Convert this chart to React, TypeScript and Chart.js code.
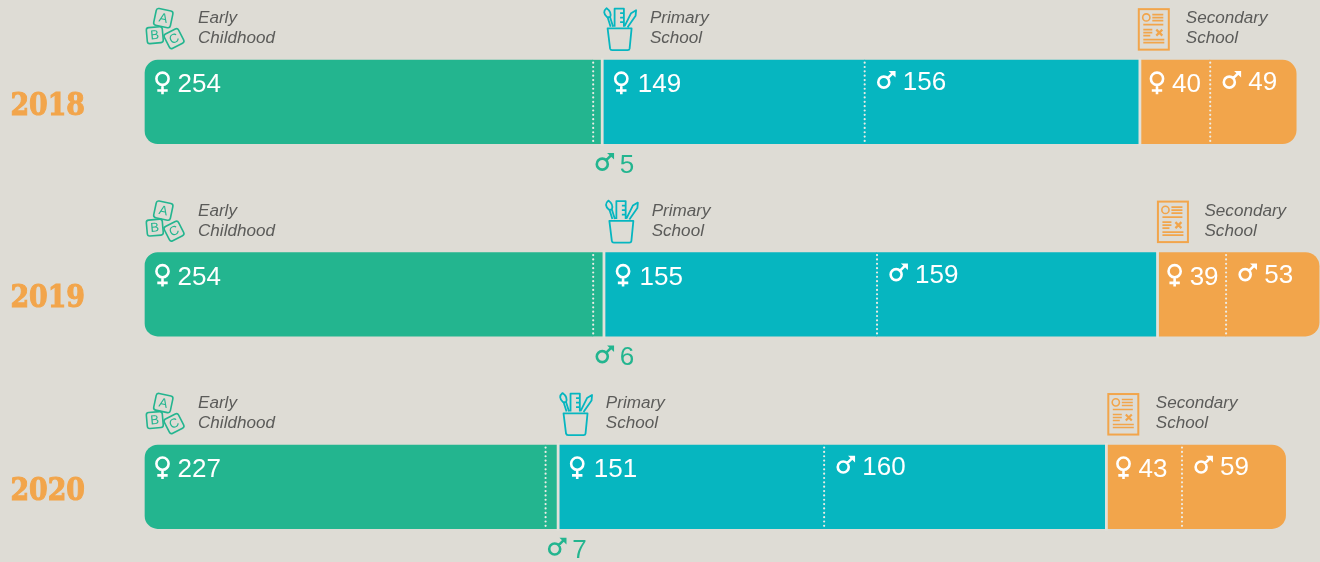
import React, { useEffect, useRef } from "react";
import { Chart, registerables } from "chart.js";

Chart.register(...registerables);

const years = ["2018", "2019", "2020"];
const earlyFemale = [254, 254, 227];
const earlyMale = [5, 6, 7];
const primaryFemale = [149, 155, 151];
const primaryMale = [156, 159, 160];
const secondaryFemale = [40, 39, 43];
const secondaryMale = [49, 53, 59];

const BG = "#dedcd5";
const GREEN = "#23b58f";
const TEAL = "#06b6c0";
const ORANGE = "#f2a54b";
const GREY = "#5b5b59";
const DOT = "#ecece6";
const SANS = '"Liberation Sans", Arial, sans-serif';

const secondaryIconShift = [-1, 0.5, 2];
const secondaryLabelShift = [46.5, 47.5, 50];

function female(c: CanvasRenderingContext2D, cx: number, top: number) {
  c.save();
  c.strokeStyle = "#fff";
  c.lineWidth = 2.6;
  c.beginPath();
  c.arc(cx, top + 18.6, 6.1, 0, Math.PI * 2);
  c.moveTo(cx, top + 25);
  c.lineTo(cx, top + 34);
  c.moveTo(cx - 5.2, top + 30.3);
  c.lineTo(cx + 5.2, top + 30.3);
  c.stroke();
  c.restore();
}

function male(c: CanvasRenderingContext2D, cx: number, cy: number, color: string) {
  c.save();
  c.strokeStyle = color;
  c.fillStyle = color;
  c.lineWidth = 2.6;
  c.beginPath();
  c.arc(cx, cy, 5.5, 0, Math.PI * 2);
  c.moveTo(cx + 4, cy - 4);
  c.lineTo(cx + 9.5, cy - 9.5);
  c.stroke();
  c.beginPath();
  c.moveTo(cx + 11.8, cy - 11.2);
  c.lineTo(cx + 11.8, cy - 4.6);
  c.lineTo(cx + 4.8, cy - 11.2);
  c.closePath();
  c.fill();
  c.restore();
}

function block(c: CanvasRenderingContext2D, x: number, y: number, side: number, deg: number, letter: string) {
  c.save();
  c.translate(x, y);
  c.rotate((deg * Math.PI) / 180);
  c.beginPath();
  c.roundRect(-side / 2, -side / 2, side, side, 2.5);
  c.stroke();
  c.font = `13px ${SANS}`;
  c.textAlign = "center";
  c.textBaseline = "middle";
  c.fillText(letter, 0, 0.5);
  c.restore();
}

function blocksIcon(c: CanvasRenderingContext2D, x: number, top: number) {
  c.save();
  c.strokeStyle = GREEN;
  c.fillStyle = GREEN;
  c.lineWidth = 1.6;
  block(c, x + 18.3, top - 42, 17, 12, "A");
  block(c, x + 9.8, top - 25, 16, -5, "B");
  block(c, x + 29, top - 21.5, 16, -27, "C");
  c.restore();
}

function cupIcon(c: CanvasRenderingContext2D, x: number, top: number) {
  c.save();
  c.strokeStyle = TEAL;
  c.lineWidth = 1.8;
  c.lineJoin = "round";
  c.beginPath();
  c.moveTo(x + 4.5, top - 31.7);
  c.lineTo(x + 28.5, top - 31.7);
  c.lineTo(x + 26.5, top - 11.5);
  c.quadraticCurveTo(x + 26.3, top - 10, x + 24.5, top - 10);
  c.lineTo(x + 9, top - 10);
  c.quadraticCurveTo(x + 7.3, top - 10, x + 7, top - 11.5);
  c.closePath();
  // ruler
  c.moveTo(x + 11.5, top - 33.5);
  c.lineTo(x + 11.5, top - 51.5);
  c.lineTo(x + 20.8, top - 51.5);
  c.lineTo(x + 20.8, top - 33.5);
  c.moveTo(x + 17, top - 47);
  c.lineTo(x + 20.8, top - 47);
  c.moveTo(x + 17, top - 42.5);
  c.lineTo(x + 20.8, top - 42.5);
  c.moveTo(x + 17, top - 38);
  c.lineTo(x + 20.8, top - 38);
  // brush
  c.moveTo(x + 4, top - 43);
  c.quadraticCurveTo(x - 1.5, top - 48, x + 3.5, top - 52);
  c.quadraticCurveTo(x + 9, top - 48, x + 7, top - 43);
  c.closePath();
  c.moveTo(x + 4.5, top - 43);
  c.lineTo(x + 7.5, top - 33.5);
  c.moveTo(x + 7, top - 43);
  c.lineTo(x + 10, top - 33.5);
  // pencil
  c.moveTo(x + 21.5, top - 34);
  c.lineTo(x + 28, top - 47);
  c.lineTo(x + 33, top - 50);
  c.lineTo(x + 32.5, top - 44.5);
  c.lineTo(x + 24.5, top - 33);
  c.stroke();
  c.restore();
}

function docIcon(c: CanvasRenderingContext2D, x: number, top: number) {
  c.save();
  c.strokeStyle = ORANGE;
  c.lineWidth = 2;
  c.strokeRect(x + 0.5, top - 51, 30, 40.5);
  c.lineWidth = 1.6;
  c.beginPath();
  c.arc(x + 8, top - 42.7, 3.6, 0, Math.PI * 2);
  const rules: [number, number, number][] = [
    [14, 25, -45.5], [14, 25, -42.5], [14, 25, -39.5], [5, 25, -35.5],
    [5, 14, -30.5], [5, 14, -27.5], [5, 12, -24.5],
    [5, 26, -20.5], [5, 26, -17.5],
  ];
  rules.forEach(([a, b, y]) => {
    c.moveTo(x + a, top + y);
    c.lineTo(x + b, top + y);
  });
  c.stroke();
  c.lineWidth = 2.2;
  c.beginPath();
  c.moveTo(x + 18, top - 30.5);
  c.lineTo(x + 24, top - 24.5);
  c.moveTo(x + 24, top - 30.5);
  c.lineTo(x + 18, top - 24.5);
  c.stroke();
  c.restore();
}

const decorations = {
  id: "decorations",
  afterDatasetsDraw(chart: any) {
    const c: CanvasRenderingContext2D = chart.ctx;
    const xs = chart.scales.x;
    const ys = chart.scales.y;
    const half = 41.75;
    const value = (n: number) => xs.getPixelForValue(n);

    years.forEach((year, i) => {
      const mid = ys.getPixelForValue(i);
      const top = mid - half;
      const bottom = mid + half;
      const a = earlyFemale[i];
      const b = a + earlyMale[i];
      const d = b + primaryFemale[i];
      const e = d + primaryMale[i];
      const f = e + secondaryFemale[i];

      // year label: bold slab look, stretched to the reference's tall digits
      c.save();
      c.translate(xs.left - 60, mid + 13);
      c.scale(1.03, 1.25);
      c.font = 'bold 26px "DejaVu Serif", serif';
      c.fillStyle = ORANGE;
      c.strokeStyle = ORANGE;
      c.lineWidth = 0.9;
      c.textAlign = "right";
      c.textBaseline = "alphabetic";
      c.fillText(year, 0, 0);
      c.strokeText(year, 0, 0);
      c.restore();

      // separators between the school levels
      c.save();
      c.strokeStyle = "#e2e1da";
      c.lineWidth = 2.8;
      [b, e].forEach((v) => {
        c.beginPath();
        c.moveTo(value(v) + 0.6, top - 2);
        c.lineTo(value(v) + 0.6, bottom + 2);
        c.stroke();
      });
      c.restore();

      // dotted gender dividers
      c.save();
      c.strokeStyle = DOT;
      c.lineWidth = 2.2;
      c.lineCap = "round";
      c.setLineDash([0, 4.35]);
      [a, d, f].forEach((v) => {
        c.beginPath();
        c.moveTo(value(v) + 0.4, top + 2.5);
        c.lineTo(value(v) + 0.4, bottom - 2);
        c.stroke();
      });
      c.restore();

      // value labels inside the bars
      c.save();
      c.font = `26px ${SANS}`;
      c.fillStyle = "#fff";
      c.textBaseline = "alphabetic";
      [
        { x: value(0), n: earlyFemale[i], sym: 17.5, num: 32.5 },
        { x: value(b) + 1.2, n: primaryFemale[i], sym: 18.5, num: 35 },
        { x: value(e) + 1.2, n: secondaryFemale[i], sym: 16.5, num: 31.5 },
      ].forEach((s) => {
        female(c, s.x + s.sym, top);
        c.fillText(String(s.n), s.x + s.num, top + 32);
      });
      [
        { x: value(d), n: primaryMale[i] },
        { x: value(f), n: secondaryMale[i] },
      ].forEach((s) => {
        male(c, s.x + 19.5, top + 22, "#fff");
        c.fillText(String(s.n), s.x + 38.5, top + 30);
      });

      // early-childhood male value below the bar
      c.fillStyle = GREEN;
      male(c, value(a) + 9.5, bottom + 20.5, GREEN);
      c.fillText(String(earlyMale[i]), value(a) + 27, bottom + 29);
      c.restore();

      // level icons and captions
      c.save();
      c.font = `italic 17.1px ${SANS}`;
      c.fillStyle = GREY;
      const caption = (x: number, l1: string, l2: string) => {
        c.fillText(l1, x, top - 36.7);
        c.fillText(l2, x, top - 16.7);
      };
      blocksIcon(c, value(0), top);
      caption(value(0) + 53, "Early", "Childhood");
      cupIcon(c, value(b) + 1.5, top);
      caption(value(b) + 48.3, "Primary", "School");
      docIcon(c, value(e) + secondaryIconShift[i], top);
      caption(value(e) + secondaryLabelShift[i], "Secondary", "School");
      c.restore();
    });
  },
};

const segment = (label: string, data: number[], color: string, radius: any) => ({
  label,
  data,
  backgroundColor: color,
  borderWidth: 0,
  borderSkipped: false,
  borderRadius: radius,
  barThickness: 83.5,
  clip: false as any,
});

export default function App() {
  const ref = useRef<HTMLCanvasElement>(null);

  useEffect(() => {
    const chart = new Chart(ref.current as HTMLCanvasElement, {
      type: "bar",
      data: {
        labels: years,
        datasets: [
          segment("Early Childhood, female", earlyFemale, GREEN, { topLeft: 13, bottomLeft: 13, topRight: 0, bottomRight: 0 }),
          segment("Early Childhood, male", earlyMale, GREEN, 0),
          segment("Primary School, female", primaryFemale, TEAL, 0),
          segment("Primary School, male", primaryMale, TEAL, 0),
          segment("Secondary School, female", secondaryFemale, ORANGE, 0),
          segment("Secondary School, male", secondaryMale, ORANGE, { topLeft: 0, bottomLeft: 0, topRight: 14, bottomRight: 14 }),
        ],
      },
      options: {
        indexAxis: "y",
        responsive: false,
        animation: false,
        layout: { padding: { top: 101.9, bottom: 75.2, left: 0, right: 0 } },
        plugins: { legend: { display: false }, tooltip: { enabled: false } },
        scales: {
          x: { stacked: true, display: false, min: 0, max: 666.5 },
          y: {
            stacked: true,
            offset: false,
            afterFit(scale: any) {
              scale.width = 145;
            },
            border: { display: false },
            grid: { display: false, drawTicks: false },
            ticks: { display: false },
          },
        },
      },
      plugins: [decorations],
    } as any);
    return () => chart.destroy();
  }, []);

  return (
    <div style={{ position: "fixed", left: 0, top: 0, width: 1320, height: 562, background: BG }}>
      <canvas ref={ref} width={1320} height={562} style={{ display: "block" }} />
    </div>
  );
}
